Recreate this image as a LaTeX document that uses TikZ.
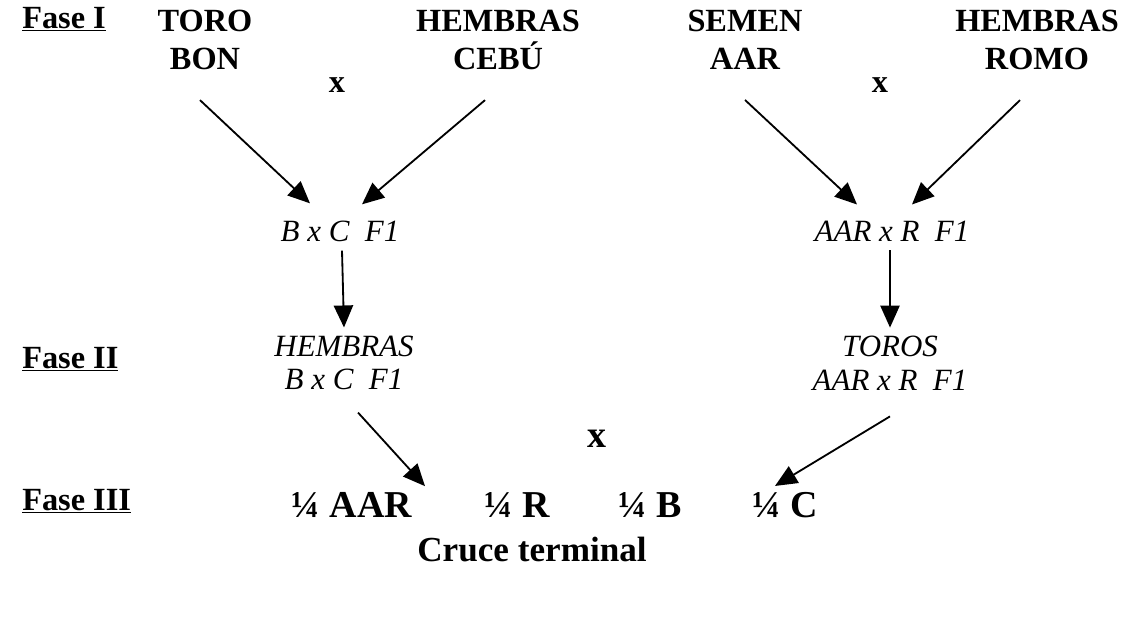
\documentclass[tikz,border=0pt]{standalone}
\usepackage{fontspec}
\setmainfont{Liberation Serif}
\usetikzlibrary{arrows.meta}
\usetikzlibrary{calc}
\tikzset{
  flecha/.style={-{Triangle[length=0.55cm,width=0.48cm]},line width=1.3pt},
  raza/.style={font=\bfseries\fontsize{23}{27}\selectfont,align=center,inner sep=0pt},
  cruza/.style={font=\itshape\fontsize{22}{24}\selectfont,align=center,inner sep=0pt},
  fase/.style={font=\bfseries\fontsize{23}{23}\selectfont,anchor=west,inner sep=0pt},
  por/.style={font=\bfseries\fontsize{23}{23}\selectfont,inner sep=0pt},
  cuarto/.style={font=\bfseries\fontsize{27}{27}\selectfont,inner sep=0pt}
}

\begin{document}
\begin{tikzpicture}[x=0.025cm,y=-0.025cm]
        \useasboundingbox (0,0) rectangle (1129,629);

        % fases
        \node[fase] (f1) at (22,19)  {\underline{Fase I}};
        \node[fase] (f2) at (22,359) {\underline{Fase II}};
        \node[fase] (f3) at (22,501) {\underline{Fase III}};

        % razas de partida
        \node[raza] (toro)  at (205,40)  {TORO\\BON};
        \node[raza] (hembC) at (498,40)  {HEMBRAS\\CEBÚ};
        \node[raza] (semen) at (745,40)  {SEMEN\\AAR};
        \node[raza] (hembR) at (1037,40) {HEMBRAS\\ROMO};
        \node[por] (x1) at (337,85) {x};
        \node[por] (x2) at (880,85) {x};

        % F1
        \node[cruza] (bxc)   at (340,231) {B x C\ \ F1};
        \node[cruza] (aarxr) at (892,231) {AAR x R\ \ F1};
        \node[cruza] (hembF) at (344,363) {HEMBRAS\\B x C\ \ F1};
        \node[cruza] (toros) at (890,363) {TOROS\\AAR x R\ \ F1};
        \node[por,font=\bfseries\fontsize{27}{27}\selectfont] (x3) at (597,439) {x};

        % cruce terminal
        \node[cuarto] (qa) at (352,505) {¼ AAR};
        \node[cuarto] (qr) at (517,505) {¼ R};
        \node[cuarto] (qb) at (650,505) {¼ B};
        \node[cuarto] (qc) at (785,505) {¼ C};
        \node[cuarto,font=\bfseries\fontsize{25}{25}\selectfont] (ct) at (532,550) {Cruce terminal};

        \draw[flecha] ($(toro.south)+(-5,30)$)  -- ($(bxc.north)+(-30,-17)$);
        \draw[flecha] ($(hembC.south)+(-13,30)$) -- ($(bxc.north)+(22,-16)$);
        \draw[flecha] ($(semen.south)+(0,30)$)  -- ($(aarxr.north)+(-35,-16)$);
        \draw[flecha] ($(hembR.south)+(-17,30)$) -- ($(aarxr.north)+(20,-16)$);

        \draw[flecha] ($(bxc.south)+(2,9)$)   -- ($(hembF.north)+(0,-8)$);
        \draw[flecha] ($(aarxr.south)+(-2,9)$) -- ($(toros.north)+(0,-8)$);

        \draw[flecha] ($(hembF.south)+(14,22)$) -- ($(qa.north)+(73,-6)$);
        \draw[flecha] ($(toros.south)+(0,26)$)  -- ($(qc.north)+(-10,-6)$);
    \end{tikzpicture}
\end{document}
